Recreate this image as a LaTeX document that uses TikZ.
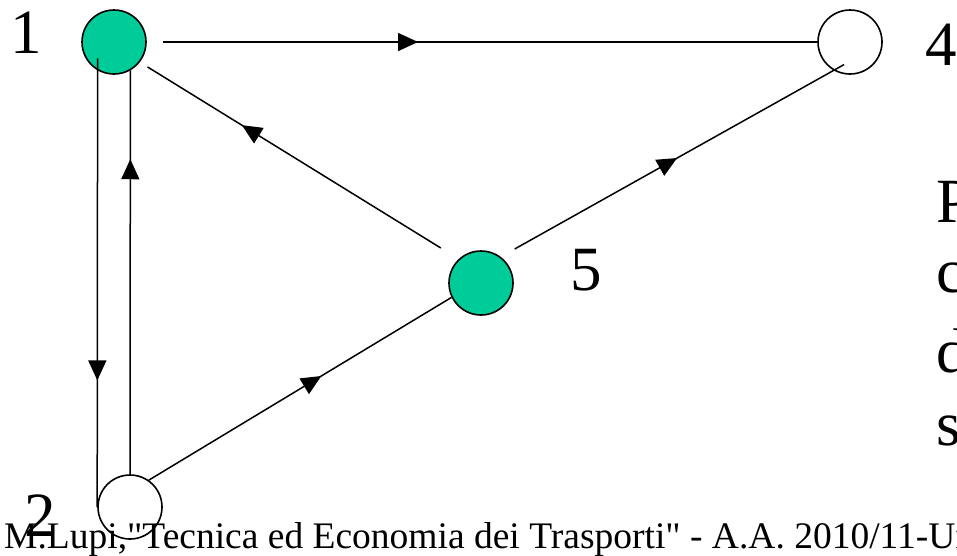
\documentclass[tikz,border=0pt]{standalone}
\usepackage{fontspec}
\setmainfont{Liberation Serif}
\usetikzlibrary{arrows.meta, decorations.markings}
\definecolor{c1}{HTML}{000000}
\definecolor{c2}{HTML}{00CC99}

\begin{document}
\begin{tikzpicture}[
    x=1pt, y=-1pt,
    stop/.style={circle, draw=c1, line width=1.6pt, minimum size=64pt, inner sep=0pt},
    hub/.style={stop, fill=c2},
    edge/.style={c1, line width=1.5pt},
    mid/.style={postaction={decorate}, decoration={markings,
        mark=at position #1 with {\arrow{Triangle[length=20pt, width=18pt]}}}},
    num/.style={font=\fontsize{63}{63}\selectfont, anchor=base west, inner sep=0pt},
    foot/.style={font=\fontsize{37.5}{37.5}\selectfont, anchor=base west, inner sep=0pt},
]
\useasboundingbox (0,0) rectangle (957,555);
\clip (0,0) rectangle (957,555);

% ---------------- nodes
\node[hub]  (n1) at (114, 42) {};
\node[stop] (n4) at (850, 42) {};
\node[hub]  (n5) at (481, 283) {};
\node[stop] (n2) at (130, 507) {};

\node[num] (l1) at (10, 53) {1};
\node[num] (l4) at (925, 65) {4};
\node[num] (l5) at (570, 290) {5};
\node[num] (l2) at (24, 536) {2};

% ---------------- links
\coordinate (s14) at ([xshift=16pt]n1.east);
\draw[edge, mid=0.39] (s14) -- (n4.west);
\draw[edge, mid=0.71, shorten <=-12pt] (n1.240) -- (n2.west);
\draw[edge, mid=0.78] (n2.north) -- (n1.300);
\draw[edge, mid=0.68, shorten <=21pt, shorten >=9pt] (n5.133) -- (n1.322);
\draw[edge, mid=0.53, shorten <=16pt, shorten >=-12pt] (n5.53) -- (n4.240);
\draw[edge, mid=0.57] (n2.55) -- (n5.206);

% ---------------- text cut by the slide edge
\foreach \k/\y/\txt in {a/222/P, b/292/c, c/372/d, d/445/s}{
    \node[num] (r\k) at (936, \y) {\txt};
}
\node[foot] (ft) at (4, 548) {M.Lupi,\textquotedbl Tecnica ed Economia dei Trasporti\textquotedbl{} - A.A. 2010/11-Un};
\end{tikzpicture}
\end{document}
